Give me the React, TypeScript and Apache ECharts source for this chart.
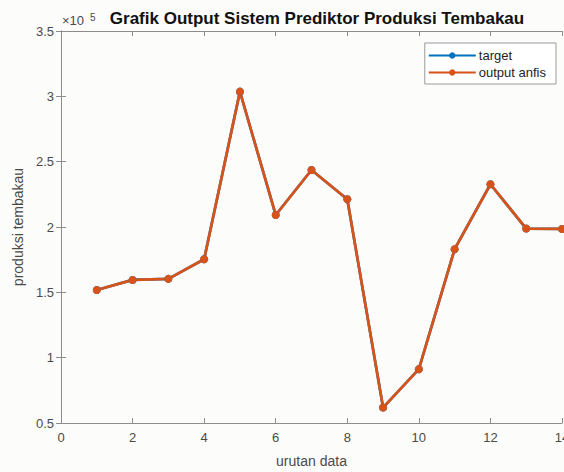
import React, { useEffect, useRef } from "react";
import * as echarts from "echarts";

const xValues = [1, 2, 3, 4, 5, 6, 7, 8, 9, 10, 11, 12, 13, 14];
const target = [151800, 159500, 160300, 175300, 303600, 209200, 243600, 221200, 61800, 91200, 183000, 232700, 198800, 198500];
const outputAnfis = [151800, 159500, 160300, 175300, 303600, 209200, 243600, 221200, 61800, 91200, 183000, 232700, 198800, 198500];
const seriesNames = ["target", "output anfis"];
const titleText = "Grafik Output Sistem Prediktor Produksi Tembakau";
const xLabel = "urutan data";
const yLabel = "produksi tembakau";

const FONT = "Liberation Sans, Arial, Helvetica, sans-serif";
const AXIS = "#8c8c8c";
const TEXT = "#4a4a4a";

export default function App() {
  const ref = useRef<HTMLDivElement>(null);
  useEffect(() => {
    if (!ref.current) return;
    const chart = echarts.init(ref.current, null, { renderer: "svg" });
    const pairs = (arr: number[]) => xValues.map((x, i) => [x, arr[i]]);
    const commonX = {
      type: "value" as const,
      min: 0,
      max: 14,
      interval: 2,
      axisLine: { show: true, lineStyle: { color: AXIS, width: 1 } },
      axisTick: { show: true, inside: true, length: 5, lineStyle: { color: AXIS } },
      splitLine: { show: false },
    };
    const commonY = {
      type: "value" as const,
      min: 50000,
      max: 350000,
      interval: 50000,
      axisLine: { show: true, lineStyle: { color: AXIS, width: 1 } },
      axisTick: { show: true, inside: true, length: 5, lineStyle: { color: AXIS } },
      splitLine: { show: false },
    };
    chart.setOption({
      animation: false,
      backgroundColor: "#fcfcfa",
      textStyle: { fontFamily: FONT },
      grid: { left: 61, top: 31, right: 2, bottom: 49, containLabel: false, outerBoundsMode: "none" },
      title: {
        text: titleText,
        left: 312,
        textAlign: "center",
        top: 5,
        textStyle: { fontFamily: FONT, fontSize: 17, fontWeight: "bold", color: "#111" },
      },
      graphic: [
        {
          type: "text",
          x: 62,
          y: 27,
          style: { text: "×10", fontFamily: FONT, fontSize: 13, fill: TEXT, verticalAlign: "bottom" },
        },
        {
          type: "text",
          x: 90,
          y: 22,
          style: { text: "5", fontFamily: FONT, fontSize: 10, fill: TEXT, verticalAlign: "bottom" },
        },
      ],
      legend: {
        orient: "vertical",
        right: 8,
        top: 43,
        itemWidth: 47,
        itemHeight: 8,
        itemGap: 4,
        padding: [6, 10, 5, 3],
        backgroundColor: "#ffffff",
        borderColor: "#9a9a9a",
        borderWidth: 1,
        textStyle: { fontFamily: FONT, fontSize: 13, color: "#222", padding: [0, 0, 0, -2] },
        data: seriesNames,
      },
      xAxis: [
        {
          ...commonX,
          position: "bottom",
          name: xLabel,
          nameLocation: "middle",
          nameGap: 31,
          nameTextStyle: { fontFamily: FONT, fontSize: 14, color: TEXT },
          axisLabel: { show: true, fontFamily: FONT, fontSize: 13, color: TEXT, margin: 8 },
        },
        { ...commonX, position: "top", axisLabel: { show: false } },
      ],
      yAxis: [
        {
          ...commonY,
          position: "left",
          name: yLabel,
          nameLocation: "middle",
          nameGap: 35,
          nameRotate: 90,
          nameTextStyle: { fontFamily: FONT, fontSize: 14, color: TEXT },
          axisLabel: {
            show: true,
            fontFamily: FONT,
            fontSize: 13,
            color: TEXT,
            margin: 7,
            formatter: (v: number) => String(v / 100000),
          },
        },
        { ...commonY, position: "right", axisLabel: { show: false } },
      ],
      series: [
        {
          name: seriesNames[0],
          type: "line",
          data: pairs(target),
          symbol: "circle",
          symbolSize: 8,
          lineStyle: { color: "#0072BD", width: 2.7 },
          itemStyle: { color: "#0072BD" },
        },
        {
          name: seriesNames[1],
          type: "line",
          data: pairs(outputAnfis),
          symbol: "circle",
          symbolSize: 8,
          lineStyle: { color: "#D95319", width: 2.7 },
          itemStyle: { color: "#D95319" },
        },
      ],
    });
    return () => chart.dispose();
  }, []);
  return (
    <div
      ref={ref}
      style={{ position: "fixed", left: 0, top: 0, width: 564, height: 472 }}
    />
  );
}
